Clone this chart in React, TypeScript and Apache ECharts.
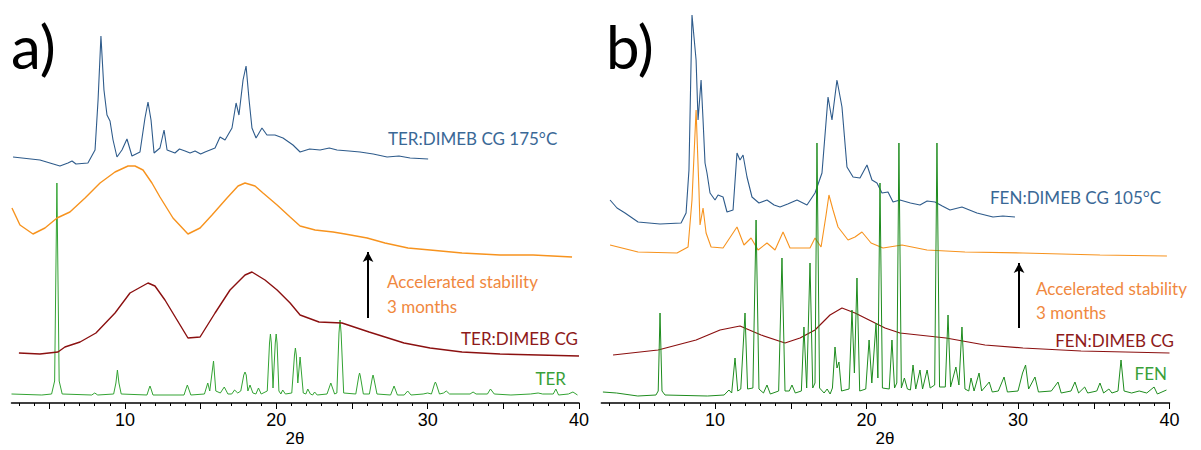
import React, { useEffect, useRef } from "react";
import * as echarts from "echarts";

// ---------- Panel a (TER) ----------
const terBlue: [number, number][] = [
  [2.6, 246], [4.38, 243], [5.7, 237], [6.23, 240], [6.5, 242], [6.76, 239], [7.55, 240], [8.02, 253],
  [8.22, 303], [8.41, 367], [8.61, 313], [8.81, 288], [9.01, 282], [9.21, 263], [9.47, 246], [9.8, 253],
  [10.13, 264], [10.46, 247], [10.99, 251], [11.32, 285], [11.52, 301], [11.72, 283], [11.92, 250],
  [12.31, 255], [12.58, 273], [12.78, 253], [13.3, 250], [13.6, 254], [13.97, 252], [14.3, 250], [14.63, 252],
  [15.0, 249], [15.29, 251], [15.95, 255], [16.28, 266], [16.61, 263], [17.07, 275], [17.34, 300], [17.53, 288],
  [17.8, 323], [18.0, 337], [18.2, 303], [18.39, 275], [18.66, 265], [19.05, 275], [19.38, 268], [19.91, 268],
  [20.44, 265], [21.1, 258], [21.57, 251], [22.2, 254], [22.89, 253], [23.5, 255], [24.01, 253], [24.8, 252],
  [25.53, 251], [26.4, 249], [27.32, 246], [28.1, 247], [28.84, 245], [30.03, 244],
];
const terOrange: [number, number][] = [
  [2.53, 195], [3.06, 178], [3.92, 169], [4.71, 175], [5.51, 185], [6.36, 191], [7.36, 205], [8.35, 220],
  [9.34, 231], [10.2, 237], [10.66, 237], [11.19, 233], [11.78, 220], [12.31, 206], [13.17, 185],
  [14.16, 169], [14.96, 175], [15.75, 188], [16.74, 205], [17.47, 217], [17.93, 220], [18.59, 217],
  [19.12, 210], [20.05, 198], [20.91, 186], [21.57, 177], [22.56, 173], [23.75, 171], [24.54, 169],
  [26.0, 165], [27.18, 160], [28.7, 155], [30.16, 153], [32.27, 150], [34.78, 148], [36.97, 148],
  [39.54, 146],
];
const terRed: [number, number][] = [
  [2.99, 50], [4.38, 49], [5.57, 51], [6.03, 56], [7.03, 61], [8.08, 70], [9.34, 90], [10.33, 110],
  [11.52, 120], [11.98, 117], [12.64, 103], [13.44, 83], [14.16, 65], [14.96, 66], [15.95, 90],
  [16.94, 113], [17.93, 128], [18.39, 131], [19.25, 123], [20.05, 113], [20.91, 100], [21.57, 88],
  [22.82, 81], [24.34, 80], [26.13, 71], [28.44, 60], [30.16, 55], [32.27, 51], [34.78, 49], [40.0, 47],
];
const terGreen: [number, number][] = [
  [2.5, 9], [4.5, 8], [5.15, 9], [5.35, 22], [5.5, 220], [5.65, 22], [5.85, 9], [7.8, 8], [8.0, 10], [8.2, 8],
  [9.25, 9], [9.4, 20], [9.5, 33], [9.6, 20], [9.75, 9], [11.45, 8], [11.6, 15], [11.65, 17], [11.7, 15], [11.85, 8],
  [13.9, 8], [14.05, 15], [14.12, 18], [14.19, 15], [14.35, 8], [15.25, 9], [15.47, 20], [15.6, 12], [15.85, 42], [16.0, 12],
  [16.3, 10], [16.56, 16], [16.8, 9], [17.05, 9], [17.24, 13], [17.45, 10], [17.65, 12], [17.85, 28], [17.93, 31],
  [18.01, 28], [18.12, 12], [18.26, 18], [18.45, 10], [18.65, 9], [18.82, 15], [19.0, 9], [19.4, 12], [19.55, 60],
  [19.61, 69], [19.67, 60], [19.78, 15], [19.93, 60], [19.99, 69], [20.05, 60], [20.17, 12], [20.3, 9], [20.42, 13],
  [20.6, 9], [21.02, 10], [21.2, 48], [21.26, 55], [21.32, 48], [21.42, 20], [21.57, 46], [21.78, 10], [21.95, 9],
  [22.08, 14], [22.25, 9], [22.4, 8], [22.53, 11], [22.7, 8], [23.35, 9], [23.6, 20], [23.85, 9], [24.0, 10],
  [24.14, 70], [24.21, 83], [24.28, 70], [24.45, 10], [25.25, 9], [25.45, 27], [25.5, 30], [25.55, 27], [25.75, 9],
  [26.15, 9], [26.34, 25], [26.39, 28], [26.44, 25], [26.65, 9], [27.55, 8], [27.78, 17], [28.0, 8],
  [28.45, 8], [28.68, 12], [28.9, 8], [29.7, 9], [30.0, 10], [30.25, 9], [30.45, 19], [30.51, 21], [30.57, 19], [30.78, 9],
  [31.05, 10], [31.23, 12], [31.45, 9], [32.8, 9], [33.0, 11], [33.2, 9], [33.95, 9], [34.15, 14],
  [34.4, 9], [35.5, 8], [36.8, 9], [37.3, 10], [37.6, 9], [38.3, 9], [38.47, 14], [38.65, 8],
  [39.3, 9], [39.6, 11], [39.9, 8],
];

// ---------- Panel b (FEN) ----------
const fenBlue: [number, number][] = [
  [3.07, 203], [3.53, 195], [4.06, 190], [4.92, 181], [6.37, 179], [7.76, 180], [8.09, 190], [8.28, 233],
  [8.48, 388], [8.75, 343], [8.88, 283], [9.08, 323], [9.21, 283], [9.34, 240], [9.47, 230], [9.67, 210],
  [10.0, 203], [10.2, 208], [10.53, 206], [10.79, 191], [11.19, 193], [11.45, 250], [11.65, 243],
  [11.85, 248], [12.11, 226], [12.44, 206], [12.9, 200], [13.43, 203], [13.9, 198], [14.29, 196], [14.8, 199],
  [15.41, 203], [16.07, 198], [16.6, 210], [17.06, 230], [17.46, 306], [17.72, 283], [18.05, 323], [18.38, 296],
  [18.71, 236], [19.11, 226], [19.57, 225], [20.03, 238], [20.36, 223], [20.69, 220], [21.02, 210], [21.42, 211],
  [21.75, 201], [22.21, 203], [22.9, 200], [23.53, 198], [24.0, 202], [24.52, 201], [25.0, 197], [25.51, 193],
  [26.3, 196], [27.29, 190], [28.35, 186], [29.0, 187], [29.8, 186],
];
const fenOrange: [number, number][] = [
  [3.07, 158], [4.92, 151], [7.49, 150], [8.22, 156], [8.48, 203], [8.75, 293], [8.94, 213], [9.01, 178],
  [9.21, 195], [9.41, 170], [9.74, 156], [10.53, 155], [11.45, 176], [11.91, 158], [12.38, 165],
  [12.84, 153], [13.43, 160], [13.96, 153], [14.49, 171], [14.95, 155], [16.27, 155], [16.6, 165],
  [17.0, 156], [17.33, 188], [17.52, 208], [17.79, 193], [18.12, 176], [18.78, 163], [19.24, 166],
  [19.7, 171], [20.3, 160], [21.09, 155], [22.34, 158], [23.99, 153], [26.5, 151], [30.33, 150],
  [35.41, 148], [39.83, 147],
];
const fenRed: [number, number][] = [
  [3.27, 48], [6.24, 53], [8.75, 63], [10.33, 73], [11.65, 77], [13.04, 68], [14.62, 60], [15.61, 65],
  [16.6, 73], [17.59, 88], [18.38, 95], [19.24, 90], [20.17, 83], [21.22, 75], [22.21, 70], [25.25, 65],
  [27.82, 58], [30.33, 55], [34.16, 52], [40.0, 50],
];
const fenGreen: [number, number][] = [
  [2.6, 11], [3.5, 10], [4.9, 7], [6.1, 8], [6.25, 12], [6.37, 90], [6.5, 12], [6.7, 8], [9.5, 7],
  [10.6, 8], [10.92, 13], [11.1, 10], [11.32, 45], [11.5, 12], [11.7, 14], [11.98, 90], [12.15, 14],
  [12.5, 15], [12.71, 183], [12.9, 14], [13.2, 10], [13.43, 18], [13.65, 9], [14.2, 12], [14.42, 145],
  [14.62, 12], [14.9, 12], [15.08, 18], [15.3, 10], [15.7, 12], [15.87, 76], [16.05, 15], [16.27, 140],
  [16.45, 15], [16.6, 20], [16.73, 260], [16.9, 15], [17.2, 10], [17.4, 14], [17.6, 9], [17.75, 15],
  [17.92, 56], [18.05, 35], [18.18, 41], [18.35, 12], [18.85, 14], [19.04, 93], [19.2, 30], [19.37, 125],
  [19.55, 12], [19.95, 14], [20.17, 63], [20.35, 20], [20.63, 80], [20.75, 25], [20.89, 220], [21.05, 15],
  [21.5, 14], [21.68, 63], [21.85, 15], [22.0, 20], [22.14, 260], [22.3, 15], [22.5, 25], [22.7, 14],
  [22.9, 13], [23.07, 38], [23.25, 14], [23.53, 33], [23.7, 14], [24.0, 33], [24.2, 15], [24.5, 18],
  [24.65, 260], [24.82, 16], [25.2, 16], [25.38, 88], [25.55, 16], [25.9, 36], [26.1, 18], [26.3, 76],
  [26.5, 14], [26.75, 12], [26.9, 25], [27.1, 12], [27.43, 30], [27.6, 12], [28.1, 21], [28.3, 11],
  [28.7, 12], [29.08, 26], [29.3, 11], [30.0, 12], [30.3, 30], [30.5, 38], [30.7, 14], [31.12, 26],
  [31.35, 11], [32.2, 12], [32.64, 21], [32.85, 10], [33.5, 12], [33.76, 21], [34.0, 10], [34.4, 16],
  [34.6, 10], [35.2, 12], [35.41, 20], [35.65, 10], [36.0, 14], [36.2, 10], [36.6, 12], [36.8, 43],
  [37.0, 12], [37.5, 10], [38.0, 12], [38.5, 10], [38.98, 16], [39.2, 9], [39.8, 13],
];

// arrows (2θ, from intensity, to intensity)
const arrowA: [number, number, number] = [26.06, 85, 151];
const arrowB: [number, number, number] = [30.07, 75, 140];

const labelTicks = [10, 20, 30, 40];
const majorTicks = [5, 10, 15, 20, 25, 30, 35, 40];
const minorTicks = [3, 4, 6, 7, 8, 9, 11, 12, 13, 14, 16, 17, 18, 19, 21, 22, 23, 24, 26, 27, 28, 29, 31, 32, 33, 34, 36, 37, 38, 39];
const axisTitle = "2θ";

const C = {
  blue: "#2E5B8B",
  blueText: "#3A6896",
  orange: "#F7931E",
  orangeText: "#F0883E",
  red: "#8B1010",
  redText: "#8E1A1A",
  greenA: "#33A333",
  greenB: "#1E8C1E",
  greenText: "#3AA03A",
};

const LABEL_FONT = "Lato";

function xAxes(gridIndex: number) {
  return [
    {
      type: "value", gridIndex, min: 2.5, max: 40, position: "bottom",
      axisLine: { show: true, lineStyle: { color: "#000", width: 1.5 } },
      axisTick: { show: true, customValues: majorTicks, length: 6, lineStyle: { color: "#000", width: 1 } },
      axisLabel: { show: true, customValues: labelTicks, margin: 8, fontSize: 18, color: "#000", fontFamily: "Liberation Sans" },
      splitLine: { show: false },
    },
    {
      type: "value", gridIndex, min: 2.5, max: 40, position: "bottom",
      axisLine: { show: false },
      axisTick: { show: true, customValues: minorTicks, length: 3, lineStyle: { color: "#000", width: 1 } },
      axisLabel: { show: false },
      splitLine: { show: false },
    },
  ];
}

function lineSeries(data: [number, number][], color: string, axisIdx: number, width = 1) {
  return {
    type: "line", data, xAxisIndex: axisIdx, yAxisIndex: axisIdx / 2,
    showSymbol: false, symbol: "none", smooth: false,
    lineStyle: { color, width }, silent: true,
  };
}

function arrowSeries(a: [number, number, number], axisIdx: number) {
  return {
    type: "line", data: [], xAxisIndex: axisIdx, yAxisIndex: axisIdx / 2, silent: true,
    markLine: {
      silent: true, symbol: ["none", "arrow"], symbolSize: [8, 10],
      label: { show: false },
      lineStyle: { color: "#000", width: 2, type: "solid" },
      data: [[{ coord: [a[0], a[1]] }, { coord: [a[0], a[2]] }]],
    },
  };
}

function txt(x: number, y: number, text: string, fill: string, size = 17, align = "left", font = LABEL_FONT) {
  return {
    type: "text", x, y, silent: true,
    style: { text, fill, font: `${size}px ${font}`, align, verticalAlign: "middle" },
  };
}

export default function App() {
  const ref = useRef<HTMLDivElement>(null);
  useEffect(() => {
    if (!ref.current) return;
    const chart = echarts.init(ref.current, undefined, { renderer: "svg" });
    chart.setOption({
      animation: false,
      backgroundColor: "#fff",
      grid: [
        { left: 11.5, top: 3, width: 567.5, height: 400, outerBoundsMode: "none", containLabel: false },
        { left: 601.4, top: 3, width: 568.1, height: 400, outerBoundsMode: "none", containLabel: false },
      ],
      xAxis: [...xAxes(0), ...xAxes(1)],
      yAxis: [
        { type: "value", gridIndex: 0, min: 0, max: 400, show: false },
        { type: "value", gridIndex: 1, min: 0, max: 400, show: false },
      ],
      series: [
        lineSeries(terGreen, C.greenA, 0),
        lineSeries(terRed, C.red, 0, 1.4),
        lineSeries(terOrange, C.orange, 0, 1.4),
        lineSeries(terBlue, C.blue, 0, 1.1),
        arrowSeries(arrowA, 0),
        lineSeries(fenRed, C.red, 2, 1.2),
        lineSeries(fenBlue, C.blue, 2, 1.1),
        lineSeries(fenOrange, C.orange, 2, 1.1),
        lineSeries(fenGreen, C.greenB, 2),
        arrowSeries(arrowB, 2),
      ],
      graphic: [
        txt(11, 46, "a)", "#000", 60),
        txt(606, 46, "b)", "#000", 60),
        txt(295, 438, axisTitle, "#000", 17, "center", "Liberation Sans"),
        txt(885, 438, axisTitle, "#000", 17, "center", "Liberation Sans"),
        txt(388, 138, "TER:DIMEB CG 175°C", C.blueText),
        txt(387, 281, "Accelerated stability", C.orangeText),
        txt(387, 306, "3 months", C.orangeText),
        txt(578, 338, "TER:DIMEB CG", C.redText, 17, "right"),
        txt(566, 378, "TER", C.greenText, 17, "right"),
        txt(990, 197, "FEN:DIMEB CG 105°C", C.blueText),
        txt(1036, 288, "Accelerated stability", C.orangeText),
        txt(1036, 312, "3 months", C.orangeText),
        txt(1174, 340, "FEN:DIMEB CG", C.redText, 17, "right"),
        txt(1167, 373, "FEN", C.greenText, 17, "right"),
      ],
    });
    return () => chart.dispose();
  }, []);
  return (
    <div
      ref={ref}
      style={{ position: "absolute", left: 0, top: 0, width: 1201, height: 450, background: "#fff" }}
    />
  );
}
